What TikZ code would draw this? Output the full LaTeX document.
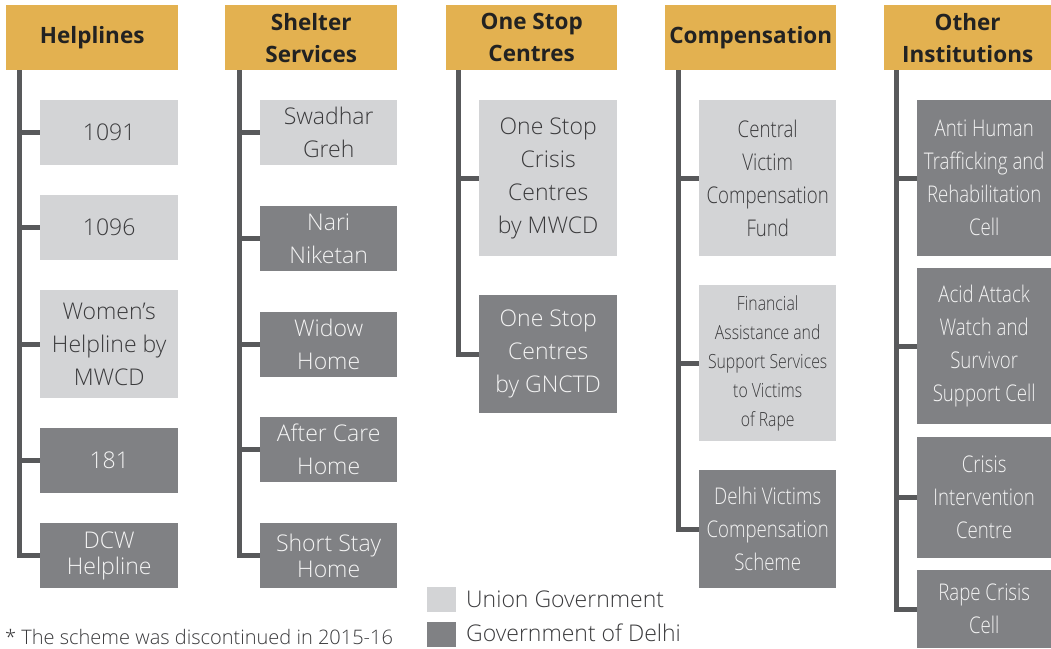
\documentclass[tikz,border=0pt]{standalone}
\usepackage{fontspec}
\setmainfont{Open Sans}
\newfontfamily\lightf{Open Sans Light}
\newfontfamily\condf[FakeStretch=0.81]{Open Sans Light}
\definecolor{gold}{HTML}{E3B150}
\definecolor{lgray}{HTML}{D3D4D6}
\definecolor{dgray}{HTML}{808184}
\definecolor{linec}{HTML}{58595B}
\definecolor{tdark}{HTML}{3A3A3C}
\definecolor{tlight}{HTML}{F4F4F4}
\definecolor{thead}{HTML}{222222}
\begin{document}
\begin{tikzpicture}[x=1pt,y=-1pt,
  hdr/.style={fill=gold, minimum width=172pt, minimum height=65pt, anchor=north west, inner sep=0pt, align=center, text=thead, font=\bfseries\fontsize{22.5}{32}\selectfont},
  sz/.style n args={2}{minimum width=#1pt, minimum height=#2pt},
  lbox/.style={fill=lgray, text=tdark, anchor=north west, inner sep=0pt, align=center, font=\lightf\fontsize{23}{33}\selectfont},
  dbox/.style={fill=dgray, text=tlight, anchor=north west, inner sep=0pt, align=center, font=\lightf\fontsize{23}{33}\selectfont},
  tight/.style={font=\lightf\fontsize{23}{26.5}\selectfont},
  cond/.style={font=\condf\fontsize{23}{33}\selectfont},
  small/.style={font=\condf\fontsize{19.5}{29}\selectfont},
  conn/.style={draw=linec, line width=5pt},
  legtext/.style={anchor=base west, inner sep=0pt, text=tdark, font=\lightf\fontsize{23}{26}\selectfont}]
\useasboundingbox (0,0) rectangle (1051,648);

% Headers
\node[hdr] (H1) at (6,5) {Helplines};
\node[hdr] (H2) at (225,5) {Shelter\\Services};
\node[hdr, minimum width=171pt] (H3) at (446,5) {One Stop\\Centres};
\node[hdr, minimum width=171pt] (H4) at (665,5) {Compensation};
\node[hdr, minimum width=167pt] (H5) at (884,5) {Other\\Institutions};

% Helplines
\node[lbox, sz={138}{65}] (a1) at (40,100) {1091};
\node[lbox, sz={138}{65}] (a2) at (40,195) {1096};
\node[lbox, sz={138}{108}] (a3) at (40,290) {Women’s\\Helpline by\\MWCD};
\node[dbox, sz={138}{65}] (a4) at (40,428) {181};
\node[dbox, tight, sz={138}{65}] (a5) at (40,523) {DCW\\Helpline};

% Shelter
\node[lbox, sz={137}{65}] (b1) at (260,100) {Swadhar\\Greh};
\node[dbox, sz={137}{65}] (b2) at (260,206) {Nari\\Niketan};
\node[dbox, sz={137}{65}] (b3) at (260,312) {Widow\\Home};
\node[dbox, sz={137}{65}] (b4) at (260,417) {After Care\\Home};
\node[dbox, tight, sz={137}{65}] (b5) at (260,523) {Short Stay\\Home};

% One Stop
\node[lbox, sz={138}{156}] (c1) at (479,100) {One Stop\\Crisis\\Centres\\by MWCD};
\node[dbox, sz={138}{118}] (c2) at (479,295) {One Stop\\Centres\\by GNCTD};

% Compensation
\node[lbox, cond, sz={137}{156}] (d1) at (699,100) {Central\\Victim\\Compensation\\Fund};
\node[lbox, small, sz={137}{156}] (d2) at (699,285) {Financial\\Assistance and\\Support Services\\to Victims\\of Rape};
\node[dbox, cond, sz={137}{118}] (d3) at (699,470) {Delhi Victims\\Compensation\\Scheme};

% Other institutions
\node[dbox, cond, sz={134}{156}] (e1) at (917,100) {Anti Human\\Trafficking and\\Rehabilitation\\Cell};
\node[dbox, cond, sz={134}{156}] (e2) at (917,268) {Acid Attack\\Watch and\\Survivor\\Support Cell};
\node[dbox, cond, sz={134}{121}] (e3) at (917,437) {Crisis\\Intervention\\Centre};
\node[dbox, cond, sz={134}{78}] (e4) at (917,570) {Rape Crisis\\Cell};

% Trunk coordinates
\coordinate (ta) at (19.5,70);
\coordinate (tb) at (239.5,70);
\coordinate (tc) at (458.5,70);
\coordinate (td) at (678.5,70);
\coordinate (te) at (896.5,70);

% Connectors
\draw[conn] (ta) |- (a5.west);
\foreach \n in {a1,a2,a3,a4} \draw[conn] (ta |- \n.west) -- (\n.west);
\draw[conn] (tb) |- (b5.west);
\foreach \n in {b1,b2,b3,b4} \draw[conn] (tb |- \n.west) -- (\n.west);
\draw[conn] (tc) |- (c2.west);
\draw[conn] (tc |- c1.west) -- (c1.west);
\draw[conn] (td) |- (d3.west);
\foreach \n in {d1,d2} \draw[conn] (td |- \n.west) -- (\n.west);
\draw[conn] (te) |- (e4.west);
\foreach \n in {e1,e2,e3} \draw[conn] (te |- \n.west) -- (\n.west);

% Legend
\node[fill=lgray, minimum width=29pt, minimum height=25pt, inner sep=0pt, anchor=north west] (l1) at (427,587) {};
\node[fill=dgray, minimum width=29pt, minimum height=25pt, inner sep=0pt, anchor=north west] (l2) at (427,622) {};
\node[legtext] (l1t) at (466,607) {Union Government};
\node[legtext] (l2t) at (466,641) {Government of Delhi};

% Footnote
\node[anchor=base west, inner sep=0pt, text=tdark, font=\lightf\fontsize{20}{22}\selectfont] (fn) at (5,644) {* The scheme was discontinued in 2015-16};
\end{tikzpicture}
\end{document}
